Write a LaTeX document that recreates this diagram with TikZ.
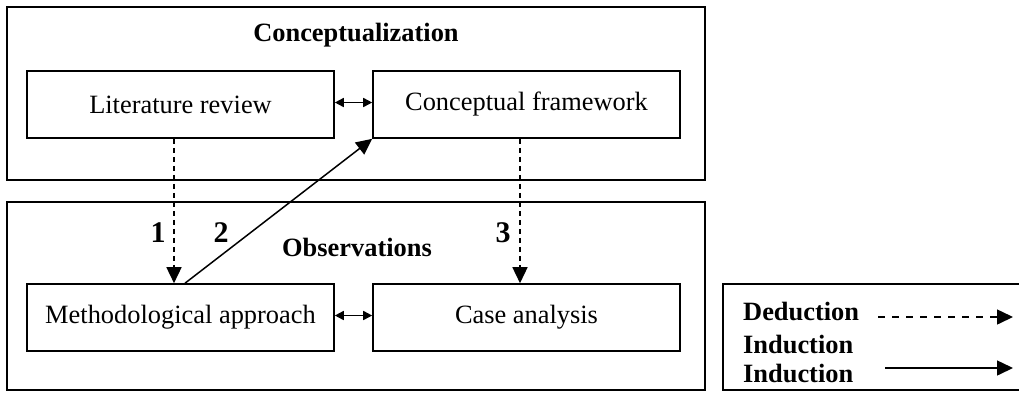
\documentclass[tikz,border=0pt]{standalone}
\usepackage{fontspec}
\setmainfont{Liberation Serif}
\usetikzlibrary{arrows.meta}
\begin{document}
\begin{tikzpicture}[x=1pt,y=-1pt,
  box/.style={draw, line width=1.6pt, minimum width=307pt, minimum height=67pt, inner sep=0pt, font=\fontsize{26.4}{30}\selectfont},
  frame/.style={draw, line width=1.8pt, inner sep=0pt},
  hd/.style={font=\fontsize{26.4}{30}\selectfont\bfseries, inner sep=0pt},
  num/.style={font=\fontsize{30}{34}\selectfont\bfseries, inner sep=0pt},
  ded/.style={line width=1.5pt, dash pattern=on 5.5pt off 3.5pt, -{Triangle[length=16pt,width=15pt]}},
  ind/.style={line width=1.5pt, -{Triangle[length=16pt,width=15pt]}},
  dbl/.style={line width=1.6pt, {Triangle[length=9pt,width=9pt]}-{Triangle[length=9pt,width=9pt]}}
]
\useasboundingbox (0,0) rectangle (1019,392);
% frames
\node[frame, minimum width=698pt, minimum height=173pt] (topframe) at (356,93.5) {};
\node[frame, minimum width=698pt, minimum height=188pt] (botframe) at (356,296) {};
\node[frame, minimum width=299pt, minimum height=106pt] (legend) at (872.5,337) {};
% headings
\node[hd] (conc) at (356,35) {Conceptualization};
\node[hd] (obs) at (357,247) {Observations};
% boxes
\node[box] (lit) at (180.5,104.5) {Literature review};
\node[box] (cf) at (526.5,104.5) {Conceptual framework};
\node[box] (meth) at (180.5,317.5) {Methodological approach};
\node[box] (case) at (526.5,317.5) {Case analysis};
% connectors
\draw[dbl] ([yshift=2pt]lit.east) -- ([yshift=2pt]cf.west);
\draw[dbl] ([yshift=2pt]meth.east) -- ([yshift=2pt]case.west);
\draw[ded] ([xshift=-6.5pt]lit.south) -- ([xshift=-6.5pt]meth.north);
\draw[ind] ([xshift=4.5pt]meth.north) -- (cf.south west);
\draw[ded] ([xshift=-6.5pt]cf.south) -- ([xshift=-6.5pt]case.north);
% numbers
\node[num] (n1) at (158,233) {1};
\node[num] (n2) at (221,233) {2};
\node[num] (n3) at (503,233) {3};
% legend
\node[hd, anchor=base west] (dedtxt) at (743,320) {Deduction};
\node[hd, anchor=base west] (indtxt) at (743,353) {Induction};
\node[hd, anchor=base west] (indtxtb) at (743,382) {Induction};
\coordinate (d1) at (878,317);
\coordinate (d2) at (1013,317);
\coordinate (i1) at (885,368);
\coordinate (i2) at (1013,368);
\draw[ind, dash pattern=on 7pt off 7pt] (d1) -- (d2);
\draw[ind] (i1) -- (i2);
\end{tikzpicture}
\end{document}
